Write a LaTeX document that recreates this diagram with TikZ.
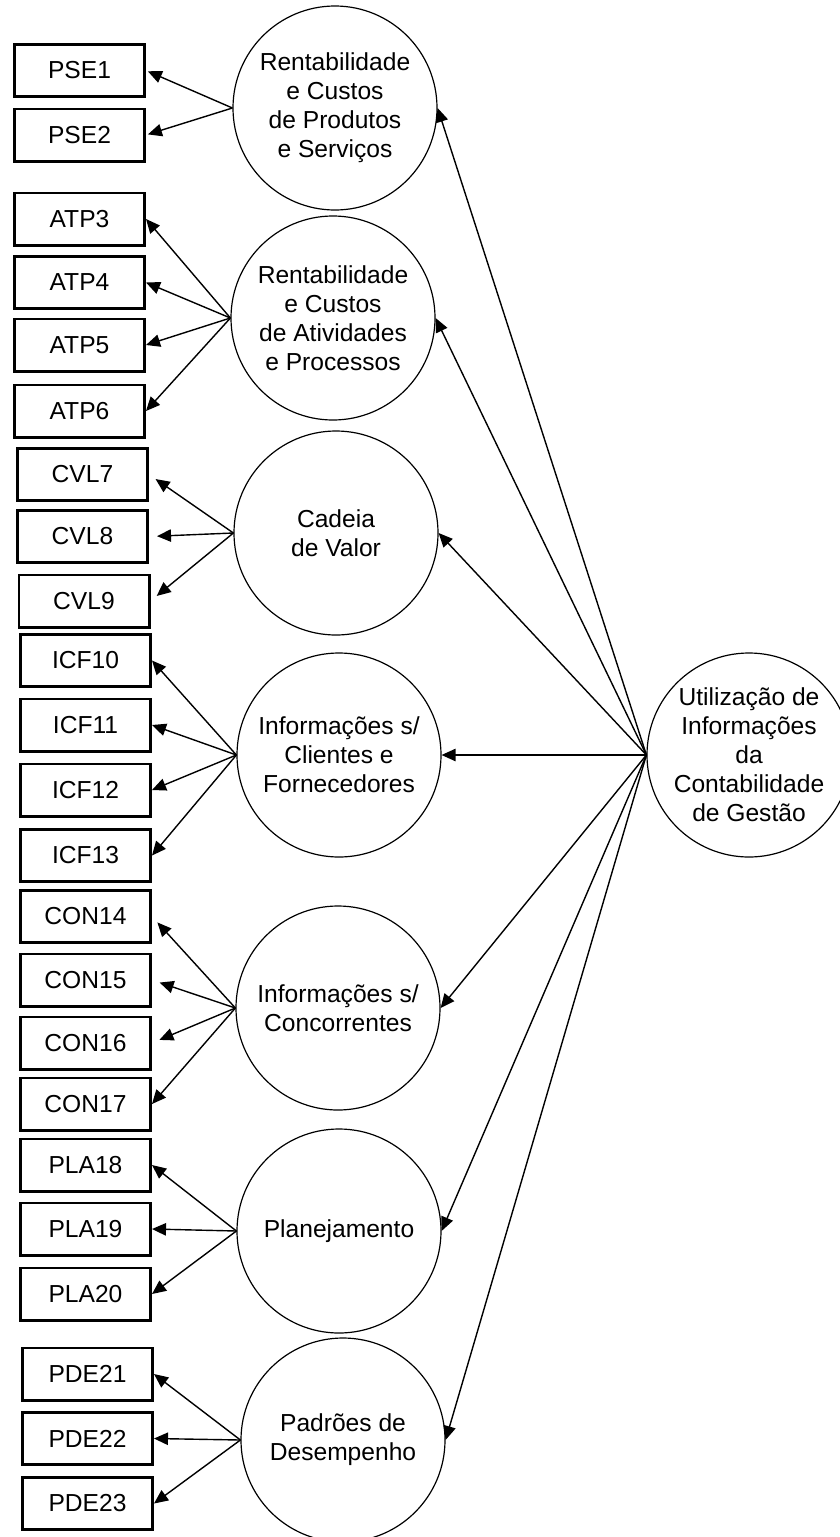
\documentclass[tikz,border=0pt]{standalone}
\usepackage{fontspec}
\setmainfont{Liberation Sans}
\usetikzlibrary{arrows.meta}
\begin{document}
\begin{tikzpicture}[x=0.5pt,y=-0.5pt,
  item/.style={draw, line width=1.3pt, minimum width=65.2pt, minimum height=26.2pt,
    inner sep=0pt, font=\fontsize{12.3}{14.5}\selectfont},
  factor/.style={circle, draw, line width=0.6pt, minimum size=102pt, inner sep=0pt,
    align=center, font=\fontsize{12.3}{14.5}\selectfont},
  link/.style={line width=0.7pt, -{Triangle[length=7pt,width=6.2pt]}}]
\clip (0,0) rectangle (840,1537);
\useasboundingbox (0,0) rectangle (840,1537);
\fill[white] (0,0) rectangle (840,1537);

% indicator boxes
\node[item] (pse1) at (79.5,70.5) {PSE1};
\node[item] (pse2) at (79.5,135) {PSE2};
\node[item] (atp3) at (79.5,219) {ATP3};
\node[item] (atp4) at (79.5,282.5) {ATP4};
\node[item] (atp5) at (79.5,345) {ATP5};
\node[item] (atp6) at (79.5,411) {ATP6};
\node[item] (cvl7) at (82.5,474.5) {CVL7};
\node[item] (cvl8) at (82.5,536.5) {CVL8};
\node[item] (cvl9) at (84,601) {CVL9};
\node[item] (icf10) at (85.5,660.5) {ICF10};
\node[item] (icf11) at (85.5,725) {ICF11};
\node[item] (icf12) at (85.5,790) {ICF12};
\node[item] (icf13) at (85.5,855.5) {ICF13};
\node[item] (con14) at (85.5,916.5) {CON14};
\node[item] (con15) at (85.5,980) {CON15};
\node[item] (con16) at (85.5,1043) {CON16};
\node[item] (con17) at (85.5,1104) {CON17};
\node[item] (pla18) at (85.5,1165) {PLA18};
\node[item] (pla19) at (85.5,1229) {PLA19};
\node[item] (pla20) at (85.5,1294) {PLA20};
\node[item] (pde21) at (87.5,1374) {PDE21};
\node[item] (pde22) at (87.5,1438.5) {PDE22};
\node[item] (pde23) at (87.5,1503.5) {PDE23};

% latent factors
\node[factor] (pse) at (335,108) {Rentabilidade\\e Custos\\de Produtos\\e Serviços};
\node[factor] (atp) at (333,318) {Rentabilidade\\e Custos\\de Atividades\\e Processos};
\node[factor] (cvl) at (336,533) {Cadeia\\de Valor};
\node[factor] (icf) at (339,755) {Informações s/\\Clientes e\\Fornecedores};
\node[factor] (con) at (338,1008) {Informações s/\\Concorrentes};
\node[factor] (pla) at (339,1231) {Planejamento};
\node[factor] (pde) at (343,1440) {Padrões de\\Desempenho};
\node[factor] (uic) at (749,755) {Utilização de\\Informações\\da\\Contabilidade\\de Gestão};

% second-order loadings
\foreach \f in {pse,atp,cvl,icf,con,pla,pde}
  \draw[link] (uic.west) -- (\f.east);

% first-order loadings
\foreach \b in {pse1,pse2}
  \draw[link, shorten >=1pt] (pse.west) -- (\b.east);
\foreach \b in {atp3,atp4,atp5,atp6}
  \draw[link] (atp.west) -- (\b.east);
\foreach \b in {cvl7,cvl8,cvl9}
  \draw[link, shorten >=4pt] (cvl.west) -- (\b.east);
\foreach \b in {icf10,icf11,icf12,icf13}
  \draw[link] (icf.west) -- (\b.east);
\foreach \b in {con14,con15,con16}
  \draw[link, shorten >=4pt] (con.west) -- (\b.east);
\draw[link] (con.west) -- (con17.east);
\foreach \b in {pla18,pla19,pla20}
  \draw[link] (pla.west) -- (\b.east);
\foreach \b in {pde21,pde22,pde23}
  \draw[link] (pde.west) -- (\b.east);
\end{tikzpicture}
\end{document}
